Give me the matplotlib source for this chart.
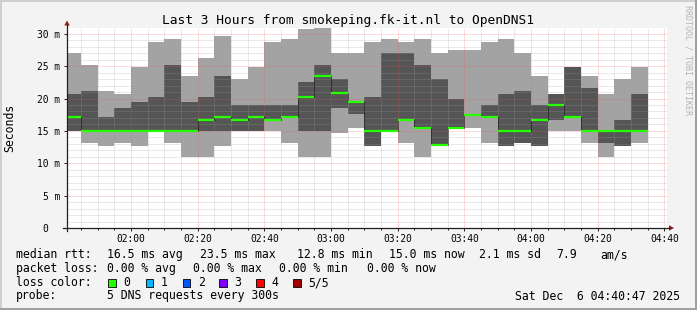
import numpy as np
import matplotlib.pyplot as plt
from matplotlib.patches import Rectangle, Polygon
from matplotlib.lines import Line2D

W, H = 697, 310
FONT = 'DejaVu Sans Mono'

# 5 pings per 300 s step, sorted (ms): max, 4th, median, 2nd, min
start_min = 100   # 01:40
step_min = 5
ping_max = [27.0, 25.2, 21.2, 20.7, 24.8, 28.8, 29.2, 23.5, 26.2, 29.7,
            23.0, 24.8, 28.8, 29.2, 30.7, 30.9, 27.0, 27.0, 28.7, 29.2,
            28.7, 29.2, 27.0, 27.5, 27.5, 28.7, 29.2, 27.0, 23.5, 20.7,
            24.8, 23.5, 20.7, 23.0, 24.8]
ping_hi = [20.7, 21.2, 17.2, 18.5, 19.5, 20.2, 25.2, 19.5, 20.2, 23.5,
           19.0, 19.0, 19.0, 19.0, 22.6, 25.2, 23.0, 19.5, 20.3, 27.0,
           27.0, 25.2, 23.0, 19.9, 17.4, 19.0, 20.7, 21.2, 19.0, 20.7,
           24.8, 21.6, 15.0, 16.7, 20.7]
median = [17.2, 15.0, 15.0, 15.0, 15.0, 15.0, 15.0, 15.0, 16.7, 17.2,
          16.7, 17.2, 16.7, 17.2, 20.3, 23.5, 20.8, 19.5, 15.0, 15.0,
          16.7, 15.5, 12.8, 15.5, 17.4, 17.2, 15.0, 15.0, 16.7, 19.0,
          17.2, 15.0, 15.0, 15.0, 15.0]
ping_lo = [15.0, 15.0, 15.0, 15.0, 15.0, 15.0, 15.0, 15.0, 15.0, 15.0,
           15.0, 15.0, 16.7, 17.2, 15.0, 15.0, 18.6, 17.6, 12.7, 15.0,
           16.7, 15.5, 12.8, 15.5, 17.4, 17.2, 12.7, 13.2, 12.7, 16.7,
           17.2, 15.0, 13.2, 12.7, 15.0]
ping_min = [15.0, 13.2, 12.7, 13.2, 12.7, 15.0, 13.2, 11.0, 11.0, 12.7,
            15.0, 15.0, 15.0, 13.2, 11.0, 11.0, 14.7, 15.5, 12.7, 15.0,
            13.2, 11.0, 12.8, 15.5, 15.5, 13.2, 12.7, 13.2, 12.7, 15.0,
            15.0, 13.2, 11.0, 12.7, 13.2]

x_tick_min = [120, 140, 160, 180, 200, 220, 240, 260, 280]
x_tick_labels = ['02:00', '02:20', '02:40', '03:00', '03:20', '03:40',
                 '04:00', '04:20', '04:40']
y_ticks = [5, 10, 15, 20, 25, 30]
y_tick_labels = ['5 m', '10 m', '15 m', '20 m', '25 m', '30 m']

loss_labels = ['0', '1', '2', '3', '4', '5/5']
loss_colors = ['#26ff00', '#00b8ff', '#0059ff', '#7e00ff', '#ff0000', '#a10000']

title = 'Last 3 Hours from smokeping.fk-it.nl to OpenDNS1'
stamp = 'Sat Dec  6 04:40:47 2025'


def fx(x):
    return x / W


def fy(y):
    return 1 - y / H


fig = plt.figure(figsize=(W / 100, H / 100), dpi=100, facecolor='#f3f3f3')
ax = fig.add_axes([fx(67), fy(228), 600 / W, 200 / H])
ax.set_facecolor('white')
ax.set_xlim(start_min + 47 / 60, start_min + 180 + 47 / 60)
ax.set_ylim(0, 30.9)
for s in ax.spines.values():
    s.set_visible(False)

n = len(median)
edges = start_min + step_min * np.arange(n + 1)


def ext(a):
    return np.append(a, a[-1])


# smoke
ax.fill_between(edges, ext(ping_min), ext(ping_max), step='post',
                color='#a3a3a3', lw=0, antialiased=False, zorder=1)
ax.fill_between(edges, ext(ping_lo), ext(ping_hi), step='post',
                color='#555555', lw=0, antialiased=False, zorder=1)

# grid (drawn over the smoke like rrdtool does)
grid_kw = dict(lw=0.72, ls=(0, (1, 1)), zorder=2)
for m in np.arange(105, 281, 5):
    if m % 20 == 0:
        ax.axvline(m, color='#ff5050', alpha=0.4, **grid_kw)
    else:
        ax.axvline(m, color='#a0a0a0', alpha=0.45, **grid_kw)
for v in range(1, 31):
    if v % 5 == 0:
        ax.axhline(v, color='#ff5050', alpha=0.4, **grid_kw)
    else:
        ax.axhline(v, color='#a0a0a0', alpha=0.45, **grid_kw)

# median
ax.step(edges, ext(median), where='post', color='black', lw=0.72,
        ls=(0, (1, 1)), zorder=3)
ax.hlines(median, edges[:-1], edges[1:], color=loss_colors[0], lw=1.6, zorder=4)

# ticks
ax.set_xticks(x_tick_min)
ax.set_xticklabels(x_tick_labels)
ax.set_xticks(np.arange(105, 281, 5), minor=True)
ax.set_yticks(y_ticks)
ax.set_yticklabels(y_tick_labels)
ax.tick_params(axis='x', which='major', length=2.5, width=0.7, color='#202020',
               pad=1.6, labelsize=6.9)
ax.tick_params(axis='x', which='minor', length=1.3, width=0.7, color='#202020')
ax.tick_params(axis='y', which='major', length=2.2, width=0.7, color='#202020',
               pad=2.9, labelsize=6.9)
for lab in ax.get_xticklabels() + ax.get_yticklabels():
    lab.set_fontfamily(FONT)
fig.text(fx(48), fy(228), '0', ha='right', va='center_baseline',
         fontsize=6.9, family=FONT)

# axis lines with arrows
axc = '#202020'
arrow = '#8b1a1a'
fig.add_artist(Line2D([fx(63), fx(669)], [fy(228), fy(228)], color=axc, lw=0.9))
fig.add_artist(Line2D([fx(67), fx(67)], [fy(231), fy(25)], color=axc, lw=0.9))
fig.add_artist(Polygon([[fx(669), fy(225.3)], [fx(674), fy(228)], [fx(669), fy(230.7)]],
                       closed=True, color=arrow, lw=0))
fig.add_artist(Polygon([[fx(64.3), fy(25.5)], [fx(67), fy(20.5)], [fx(69.7), fy(25.5)]],
                       closed=True, color=arrow, lw=0))

# texts
fig.text(fx(347.5), fy(24), title, ha='center', va='baseline', fontsize=9.3, family=FONT)
fig.text(fx(10), fy(128), 'Seconds', rotation=90, ha='center', va='center',
         fontsize=8.3, family=FONT)
fig.text(fx(688), fy(60), 'RRDTOOL / TOBI OETIKER', rotation=270, ha='center',
         va='center', fontsize=6, family=FONT, color='#b4b4b4')

legend_rows = [
    (258, [('median rtt:', 16), ('16.5 ms avg', 107.3), ('23.5 ms max', 200),
           ('12.8 ms min', 297), ('15.0 ms now', 389), ('2.1 ms sd', 479),
           ('7.9', 556.7), ('am/s', 600)]),
    (272, [('packet loss:', 16), ('0.00 % avg', 107.3), ('0.00 % max', 193.3),
           ('0.00 % min', 279.3), ('0.00 % now', 366.7)]),
    (286, [('loss color:', 16)]),
    (299.5, [('probe:', 16), ('5 DNS requests every 300s', 107.3)]),
]
for yb, items in legend_rows:
    for txt, xl in items:
        fig.text(fx(xl), fy(yb), txt, ha='left', va='baseline', fontsize=8.3, family=FONT)
fig.text(fx(680), fy(299.5), stamp, ha='right', va='baseline', fontsize=8.3, family=FONT)

box_x = [108.3, 145.7, 182.7, 219.3, 256.3, 293.3]
for bx, lab, col in zip(box_x, loss_labels, loss_colors):
    fig.add_artist(Rectangle((fx(bx), fy(286.5)), 7.5 / W, 8 / H, facecolor=col,
                             edgecolor='black', lw=0.6))
    fig.text(fx(bx + 15), fy(286), lab, ha='left', va='baseline', fontsize=8.3, family=FONT)

# 3d frame
fig.add_artist(Line2D([0, 1], [fy(0.7), fy(0.7)], color='#cfcfcf', lw=1.4))
fig.add_artist(Line2D([fx(0.7), fx(0.7)], [0, 1], color='#cfcfcf', lw=1.4))
fig.add_artist(Line2D([0, 1], [fy(309), fy(309)], color='#9e9e9e', lw=1.4))
fig.add_artist(Line2D([fx(696), fx(696)], [0, 1], color='#9e9e9e', lw=1.4))

fig.savefig('out.png', dpi=100, facecolor=fig.get_facecolor())
